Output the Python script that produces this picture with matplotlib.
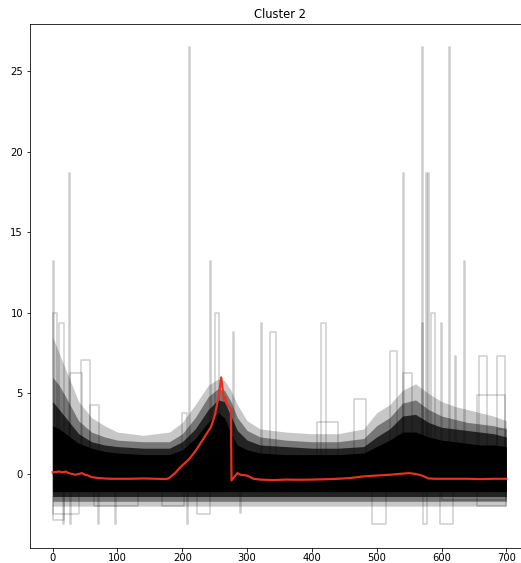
import matplotlib
matplotlib.use("Agg")
import matplotlib.pyplot as plt

# ---------------- data ----------------
title = "Cluster 2"

# mean curve (red)
mean_x = [0, 5, 10, 15, 20, 25, 30, 35, 40, 45, 50, 55, 60, 70, 80, 90, 100, 120, 140, 160,
          175, 180, 190, 197, 210, 220, 228, 236, 244, 250, 254, 257, 260, 262, 264, 266, 268,
          270, 272, 275, 276, 280, 285, 290, 300, 310, 320, 340, 360, 380, 400, 420, 440,
          460, 480, 500, 520, 540, 550, 560, 570, 580, 590, 600, 620, 640, 660, 680, 700]
mean_y = [0.1, 0.12, 0.15, 0.1, 0.15, 0.05, 0.0, -0.05, 0.0, 0.05, -0.05, -0.1, -0.2, -0.25,
          -0.28, -0.3, -0.3, -0.3, -0.28, -0.3, -0.32, -0.25, 0.1, 0.42, 0.9, 1.4, 1.9, 2.4,
          2.9, 3.6, 4.4, 5.0, 6.0, 5.4, 4.6, 4.8, 4.4, 4.3, 4.2, 4.05, -0.4, -0.2, 0.05, -0.05,
          -0.1, -0.3, -0.35, -0.38, -0.35, -0.36, -0.35, -0.33, -0.3, -0.25, -0.15, -0.1,
          -0.05, 0.02, 0.05, 0.0, -0.1, -0.28, -0.3, -0.3, -0.3, -0.3, -0.32, -0.3, -0.3]

# envelopes of the dense cloud of series (four density levels, faint -> solid)
env_x = [0, 10, 20, 40, 60, 80, 100, 140, 180, 200, 220, 240, 255, 265, 275, 285, 300, 320,
         360, 400, 440, 480, 500, 520, 540, 560, 580, 600, 620, 640, 660, 680, 700]
faint_top = [8.5, 7.5, 6.5, 4.5, 3.5, 3.0, 2.6, 2.4, 2.6, 3.2, 4.3, 5.5, 5.9, 5.8, 5.2, 4.3,
             3.3, 2.8, 2.6, 2.5, 2.5, 2.8, 3.8, 4.3, 5.2, 5.6, 5.0, 4.5, 4.2, 4.0, 3.8, 3.6, 3.3]
mid_top = [6.0, 5.5, 4.8, 3.3, 2.6, 2.3, 2.1, 2.0, 2.0, 2.5, 3.5, 4.8, 5.3, 5.2, 4.5, 3.5,
           2.7, 2.3, 2.1, 2.0, 2.0, 2.2, 3.0, 3.5, 4.4, 4.6, 4.0, 3.6, 3.4, 3.2, 3.1, 3.0, 2.8]
dense_top = [4.5, 4.0, 3.5, 2.5, 2.0, 1.8, 1.7, 1.6, 1.6, 2.0, 2.8, 4.0, 4.6, 4.5, 3.6, 2.7,
             2.1, 1.8, 1.7, 1.6, 1.6, 1.7, 2.3, 2.8, 3.6, 3.7, 3.2, 2.9, 2.8, 2.7, 2.6, 2.5, 2.3]
core_top = [3.0, 2.8, 2.5, 1.9, 1.6, 1.4, 1.3, 1.2, 1.2, 1.5, 2.2, 3.2, 3.8, 3.5, 2.5, 1.8,
            1.5, 1.3, 1.2, 1.2, 1.2, 1.3, 1.7, 2.1, 2.6, 2.6, 2.3, 2.1, 2.0, 1.9, 1.8, 1.8, 1.7]
faint_bot = -2.0
mid_bot = -1.7
dense_bot = -1.4
core_bot = -1.1

# single outlying series: thin vertical spikes (x, peak)
spike_x = [1, 26, 211, 244, 279, 322, 541, 571, 577, 580, 612, 636, 600, 622, 571]
spike_top = [13.2, 18.7, 26.5, 13.2, 8.8, 9.4, 18.7, 26.5, 18.7, 18.7, 26.5, 13.2, 9.4, 7.3, 9.4]

# outlying plateaus above the cloud (start, end, level)
box_x0 = [1, 10, 44, 26, 57, 250, 336, 414, 465, 408, 520, 541, 584, 658, 686, 655, 200, 686]
box_x1 = [6, 17, 57, 45, 72, 256, 344, 421, 484, 441, 531, 555, 590, 670, 698, 698, 208, 700]
box_top = [10.0, 9.4, 7.1, 6.25, 4.3, 10.0, 8.8, 9.4, 4.65, 3.25, 7.65, 6.25, 10.0, 7.33,
           7.33, 4.9, 3.8, 2.8]

# downward dips (x, minimum)
dip_x = [16, 27, 70, 97, 208, 290]
dip_bot = [-3.1, -3.1, -3.1, -3.1, -3.1, -2.4]

# plateaus below the cloud (start, end, level)
low_x0 = [0, 0, 64, 168, 223, 493, 571, 598, 655, 600]
low_x1 = [17, 40, 132, 202, 243, 514, 578, 617, 700, 700]
low_lvl = [-2.86, -2.5, -2.0, -2.0, -2.5, -3.1, -3.1, -3.1, -2.0, -1.6]

# ---------------- drawing ----------------
plt.rcParams["font.family"] = ["DejaVu Sans"]
fig = plt.figure(figsize=(521 / 72, 563 / 72), dpi=72)
ax = fig.add_axes([30 / 521, 15 / 563, 499 / 521, 524 / 563])

ax.fill_between(env_x, faint_bot, faint_top, color="black", alpha=0.22, lw=0)
ax.fill_between(env_x, mid_bot, mid_top, color="black", alpha=0.4, lw=0)
ax.fill_between(env_x, dense_bot, dense_top, color="black", alpha=0.7, lw=0)
ax.fill_between(env_x, core_bot, core_top, color="black", alpha=1.0, lw=0)

gray = dict(color="black", alpha=0.2, lw=1.5)
for x, t in zip(spike_x, spike_top):
    ax.plot([x - 0.8, x - 0.8, x + 0.8, x + 0.8], [0, t, t, 0], **gray)
for a, b, t in zip(box_x0, box_x1, box_top):
    ax.plot([a, a, b, b], [0, t, t, 0], **gray)
for x, t in zip(dip_x, dip_bot):
    ax.plot([x - 0.8, x - 0.8, x + 0.8, x + 0.8], [0, t, t, 0], **gray)
for a, b, t in zip(low_x0, low_x1, low_lvl):
    ax.plot([a, a, b, b], [0, t, t, 0], **gray)

ax.plot(mean_x, mean_y, color="#e8301f", lw=2.2)

ax.set_title(title, fontsize=11.5)
ax.tick_params(labelsize=10)
ax.tick_params(axis="x", pad=1.5)
ax.set_xticks([0, 100, 200, 300, 400, 500, 600, 700])
ax.set_yticks([0, 5, 10, 15, 20, 25])
ax.set_xlim(-35, 735)
ax.set_ylim(-4.6, 27.95)

fig.savefig("out.png", dpi=72)
